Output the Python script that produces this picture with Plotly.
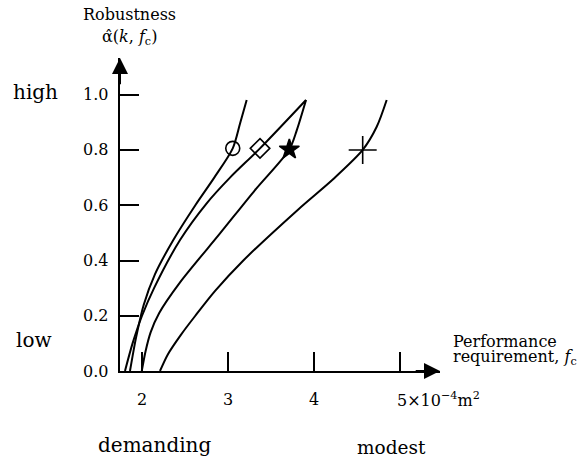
import plotly.graph_objects as go

# ---------------- data ----------------
circle_x = [1.86, 1.93, 2.02, 2.15, 2.364, 2.62, 2.84, 3.055, 3.14, 3.217]
circle_y = [0.0, 0.12, 0.24, 0.35, 0.474, 0.600, 0.700, 0.806, 0.896, 0.981]

diamond_x = [1.802, 1.89, 2.0, 2.14, 2.442, 2.752, 3.023, 3.372, 3.907]
diamond_y = [0.0, 0.10, 0.20, 0.30, 0.474, 0.607, 0.700, 0.806, 0.981]

star_x = [1.997, 2.04, 2.10, 2.20, 2.44, 2.907, 3.314, 3.713, 3.80, 3.907]
star_y = [0.0, 0.07, 0.14, 0.21, 0.32, 0.498, 0.655, 0.802, 0.872, 0.981]

plus_x = [2.209, 2.30, 2.45, 2.62, 2.85, 3.178, 3.817, 4.225, 4.566, 4.729, 4.845]
plus_y = [0.0, 0.06, 0.13, 0.2, 0.29, 0.40, 0.585, 0.695, 0.80, 0.884, 0.981]

marker_x = [3.055, 3.372, 3.713, 4.566]
marker_y = [0.806, 0.806, 0.802, 0.80]
marker_symbols = ["circle-open", "diamond-open", "star", "cross-thin-open"]
marker_sizes = [14, 15, 15, 20]

x_tick_vals = [2, 3, 4, 5]
x_tick_text = ["2", "3", "4", "5×10<sup>−4</sup>m<sup>2</sup>"]
y_tick_vals = [0.0, 0.2, 0.4, 0.6, 0.8, 1.0]
y_tick_text = ["0.0", "0.2", "0.4", "0.6", "0.8", "1.0"]

X_RANGE = [1.744, 5.465]
Y_RANGE = [0.0, 1.133]

# ---------------- layout helpers (pixel -> paper) ----------------
L, R, T, B = 120, 143, 58, 87.3
W, H = 583, 458
PW, PH = W - L - R, H - T - B


def px(xp):
    return (xp - L) / PW


def py(yp):
    return (H - B - yp) / PH


FONT = "DejaVu Serif, Liberation Serif, serif"

fig = go.Figure()

for xs, ys in [(circle_x, circle_y), (diamond_x, diamond_y), (star_x, star_y), (plus_x, plus_y)]:
    fig.add_trace(go.Scatter(x=xs, y=ys, mode="lines",
                             line=dict(color="black", width=2, shape="spline", smoothing=0.8),
                             showlegend=False, hoverinfo="skip", cliponaxis=False))

for xv, yv, sym, sz in zip(marker_x, marker_y, marker_symbols, marker_sizes):
    fig.add_trace(go.Scatter(x=[xv], y=[yv], mode="markers",
                             marker=dict(symbol=sym, size=sz, color="black",
                                         line=dict(color="black", width=1.6)),
                             showlegend=False, hoverinfo="skip", cliponaxis=False))

annotations = []
# y tick labels
for v, t in zip(y_tick_vals, y_tick_text):
    annotations.append(dict(x=px(110), y=v, xref="paper", yref="y", text=t,
                            showarrow=False, xanchor="right", yanchor="middle",
                            font=dict(family=FONT, size=16, color="black")))
# x tick labels
for v, t in zip(x_tick_vals, x_tick_text):
    annotations.append(dict(x=v, y=py(399.5), xref="x", yref="paper", text=t,
                            showarrow=False,
                            xanchor="left" if v == 5 else "center", yanchor="middle",
                            xshift=-5 if v == 5 else 0,
                            font=dict(family=FONT, size=16, color="black")))

# axis arrows
annotations.append(dict(x=X_RANGE[1], y=0, ax=X_RANGE[1] - 0.3, ay=0, xref="x", yref="y",
                        axref="x", ayref="y", showarrow=True, arrowhead=2, arrowsize=1.6,
                        arrowwidth=2, arrowcolor="black", text=""))
annotations.append(dict(x=X_RANGE[0], y=Y_RANGE[1], ax=X_RANGE[0], ay=Y_RANGE[1] - 0.1,
                        xref="x", yref="y", axref="x", ayref="y", showarrow=True, arrowhead=2,
                        arrowsize=1.6, arrowwidth=2, arrowcolor="black", text=""))

# axis titles
annotations.append(dict(x=px(129), y=py(15), xref="paper", yref="paper", text="Robustness",
                        showarrow=False, xanchor="center", yanchor="middle",
                        font=dict(family=FONT, size=16, color="black")))
annotations.append(dict(x=px(129), y=py(37.5), xref="paper", yref="paper",
                        text="α\u0302(<i>k</i>, <i>f</i><sub>c</sub>)",
                        showarrow=False, xanchor="center", yanchor="middle",
                        font=dict(family=FONT, size=16, color="black")))
annotations.append(dict(x=px(451), y=py(341), xref="paper", yref="paper", text="Performance",
                        showarrow=False, xanchor="left", yanchor="middle",
                        font=dict(family=FONT, size=16, color="black")))
annotations.append(dict(x=px(451), y=py(357), xref="paper", yref="paper",
                        text="requirement, <i>f</i><sub>c</sub>",
                        showarrow=False, xanchor="left", yanchor="middle",
                        font=dict(family=FONT, size=16, color="black")))

# qualitative labels
for txt, xc, yc, fs in [("high", 35, 92, 20), ("low", 34, 340, 20),
                        ("demanding", 154, 444.5, 20), ("modest", 391.5, 447, 18.5)]:
    annotations.append(dict(x=px(xc), y=py(yc), xref="paper", yref="paper", text=txt,
                            showarrow=False, xanchor="center", yanchor="middle",
                            font=dict(family=FONT, size=fs, color="black")))

fig.update_layout(
    width=W, height=H,
    margin=dict(l=L, r=R, t=T, b=B, pad=0),
    paper_bgcolor="white", plot_bgcolor="white",
    font=dict(family=FONT, color="black"),
    showlegend=False,
    annotations=annotations,
    xaxis=dict(range=X_RANGE, showgrid=False, zeroline=False, showline=True,
               linecolor="black", linewidth=2, ticks="inside", ticklen=19, tickwidth=1.5,
               tickcolor="black", tickvals=x_tick_vals, showticklabels=False, fixedrange=True),
    yaxis=dict(range=Y_RANGE, showgrid=False, zeroline=False, showline=True,
               linecolor="black", linewidth=2, ticks="inside", ticklen=19, tickwidth=2,
               tickcolor="black", tickvals=y_tick_vals, showticklabels=False, fixedrange=True),
)

fig.write_html("out.html")
